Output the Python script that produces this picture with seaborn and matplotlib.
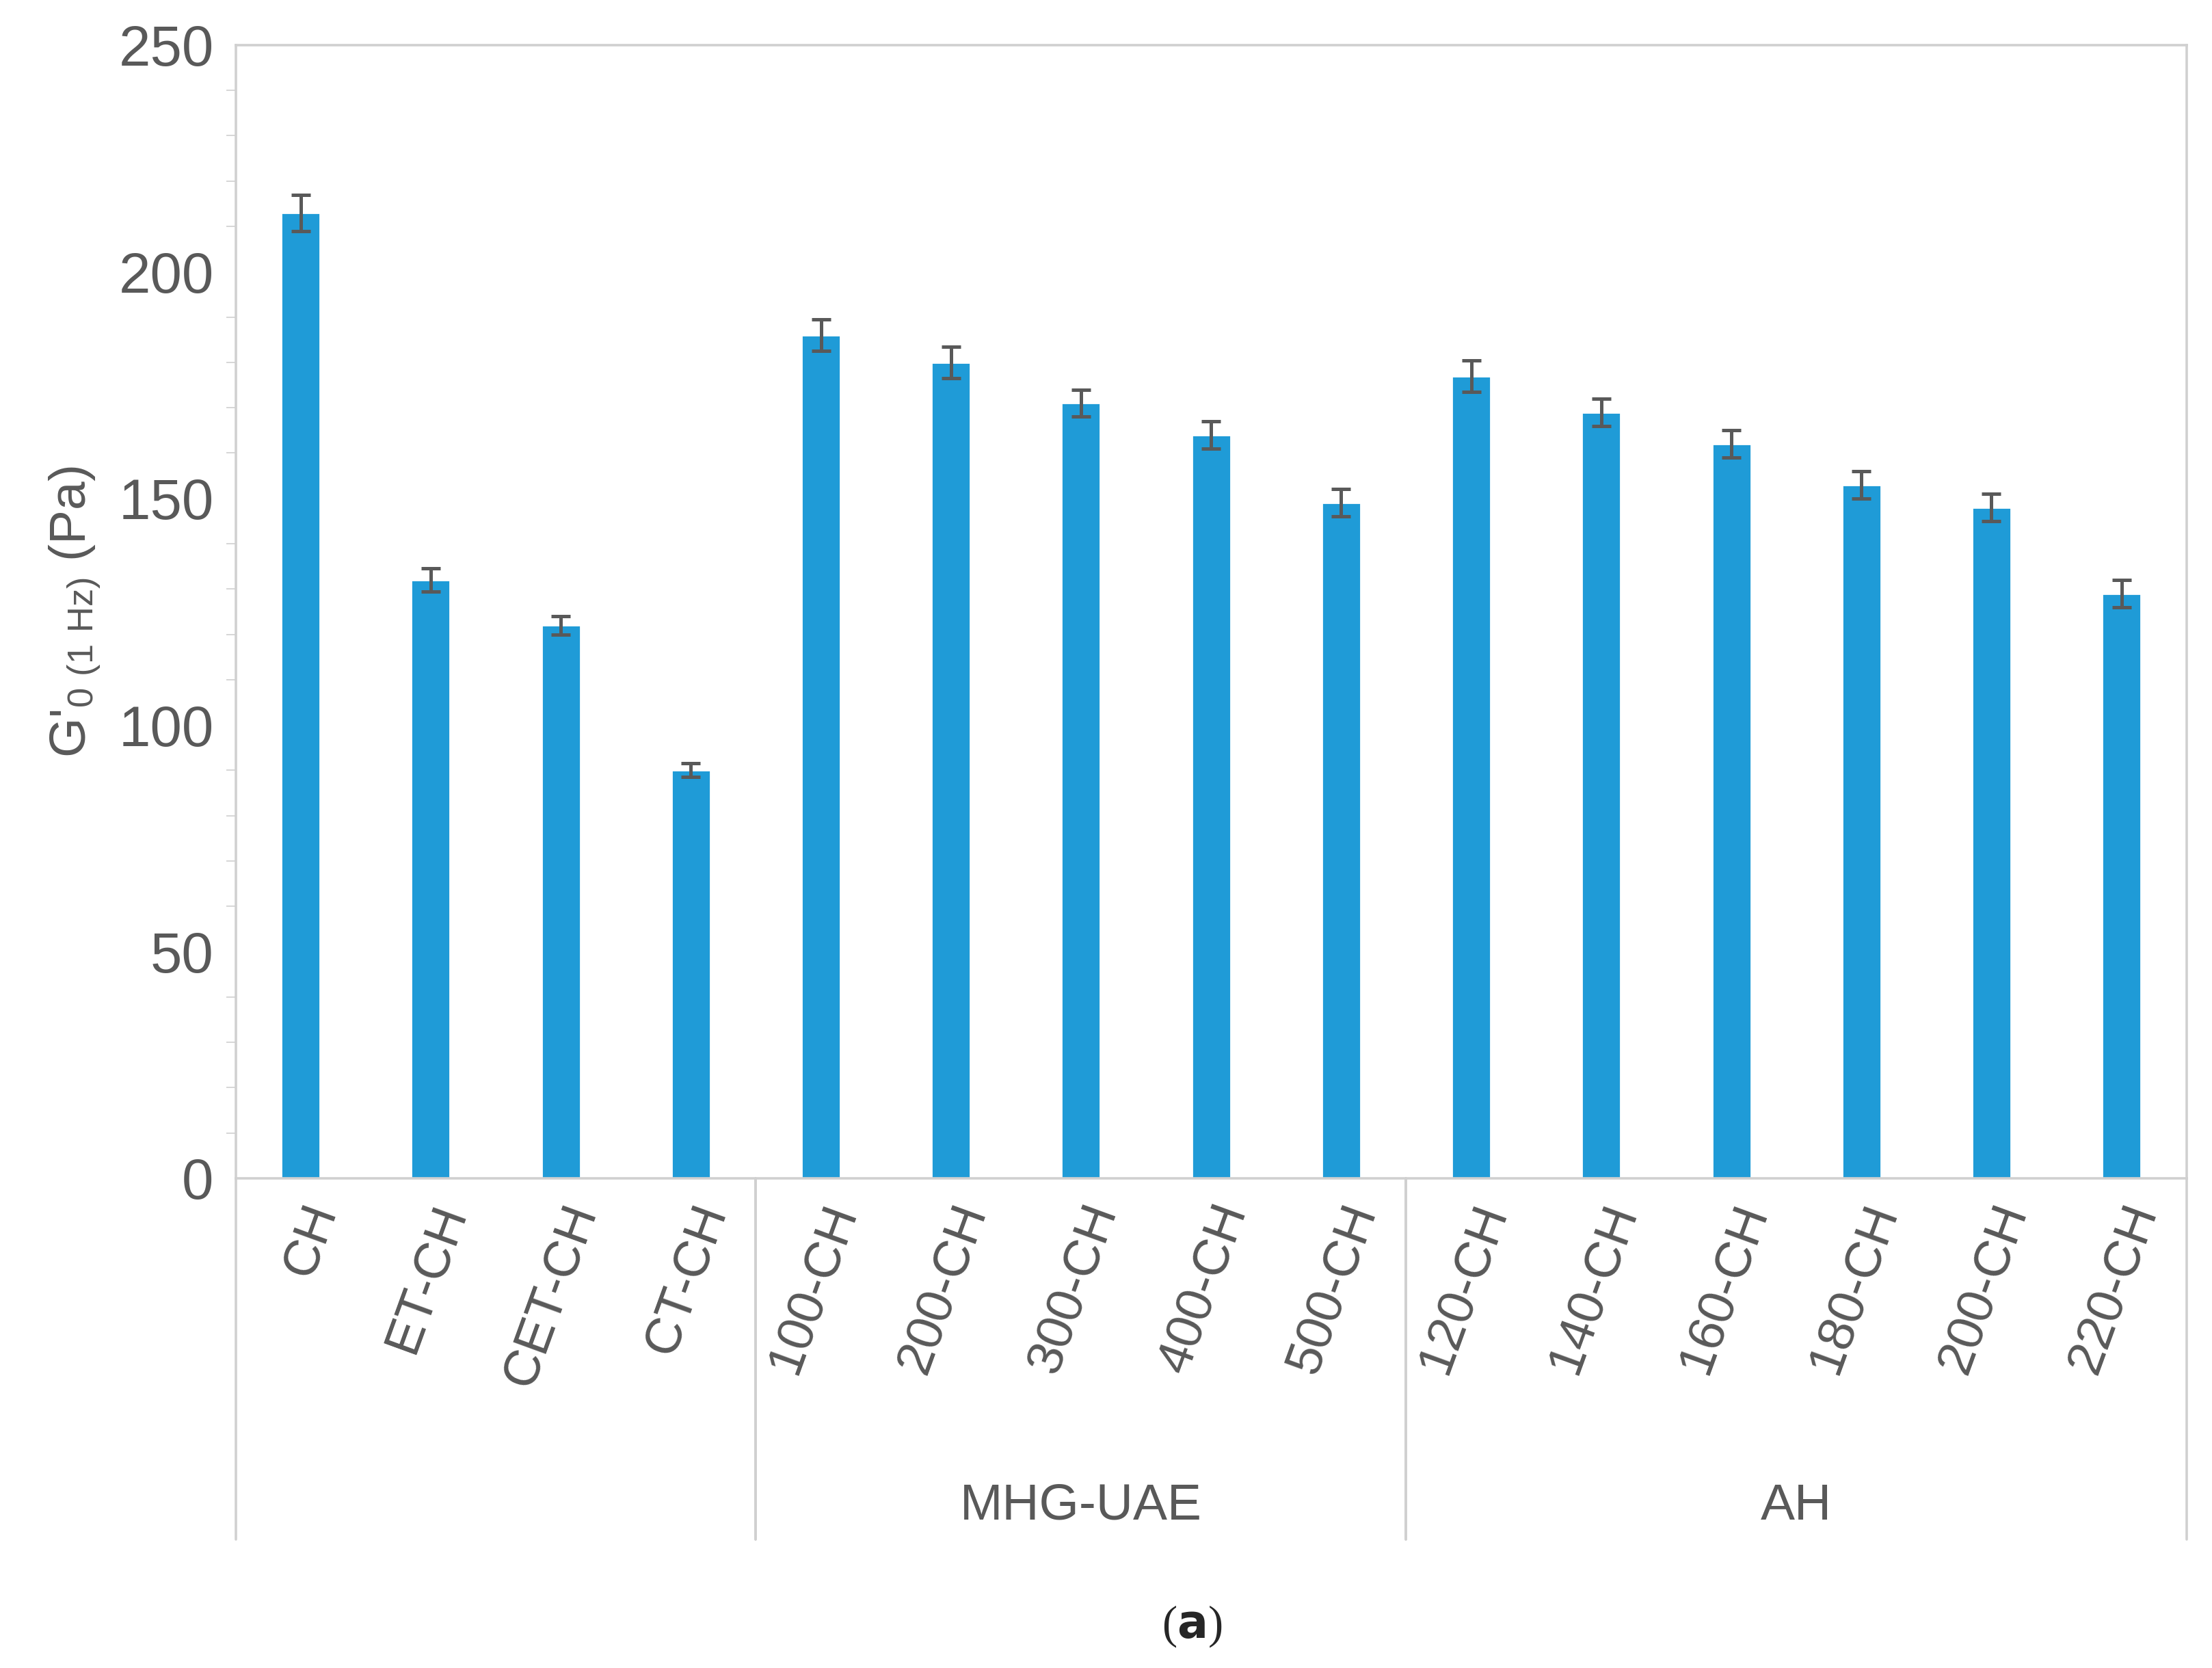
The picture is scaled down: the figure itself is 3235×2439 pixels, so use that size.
import matplotlib
matplotlib.use('Agg')
import matplotlib.pyplot as plt
import matplotlib.transforms as mtransforms
import numpy as np
import pandas as pd
import seaborn as sns

categories = ['CH', 'ET-CH', 'CET-CH', 'CT-CH',
              '100-CH', '200-CH', '300-CH', '400-CH', '500-CH',
              '120-CH', '140-CH', '160-CH', '180-CH', '200-CH', '220-CH']
values = [213, 132, 122, 90, 186, 180, 171, 164, 149, 177, 169, 162, 153, 148, 129]
errors = [4, 2.5, 2, 1.5, 3.5, 3.5, 3, 3, 3, 3.5, 3, 3, 3, 3, 3]
groups = [('', 0, 4), ('MHG-UAE', 4, 9), ('AH', 9, 15)]

BAR = '#1f9bd7'
GREY = '#595959'
LINE = '#d0d0d0'

sns.set_style('white')
plt.rcParams['font.family'] = ['Liberation Sans', 'DejaVu Sans']
plt.rcParams['mathtext.default'] = 'regular'

df = pd.DataFrame({'pos': [str(i) for i in range(len(values))], 'val': values})

fig = plt.figure(figsize=(16.175, 12.195), dpi=200)
ax = fig.add_axes([0.1065, 0.2936, 0.882, 0.6794])
sns.barplot(data=df, x='pos', y='val', color=BAR, width=0.3, saturation=1, ax=ax)
ax.errorbar(np.arange(len(values)), values, yerr=errors, fmt='none',
            ecolor=GREY, elinewidth=1.8, capsize=5, capthick=1.8)

ax.set_xlim(-0.5, len(values) - 0.5)
ax.set_ylim(0, 250)
ax.set_yticks(range(0, 251, 50))
ax.set_yticks(range(0, 251, 10), minor=True)
ax.tick_params(axis='y', which='major', labelsize=30, labelcolor=GREY, length=8, color=LINE)
ax.tick_params(axis='y', which='minor', length=5, color=LINE, left=True)
ax.tick_params(axis='x', length=0, pad=10)
ax.set_xticks(range(len(values)))
ax.set_xticklabels(categories, rotation=70, fontsize=27, color=GREY, ha='right',
                   rotation_mode='anchor')
for spine in ax.spines.values():
    spine.set_color(LINE)
    spine.set_linewidth(1.3)
ax.set_xlabel('')
ax.set_ylabel("G'$_{0\\ (1\\ Hz)}$ (Pa)", fontsize=27, color=GREY, labelpad=8)

# group separators and labels below the axis
trans = mtransforms.blended_transform_factory(ax.transData, fig.transFigure)
bottom_y = 0.2936
for name, start, stop in groups:
    for edge in (start - 0.5, stop - 0.5):
        ax.plot([edge, edge], [bottom_y, 0.077], transform=trans, color=LINE,
                lw=1.3, clip_on=False)
    if name:
        ax.text((start + stop - 1) / 2, 0.097, name, transform=trans, ha='center',
                va='center', fontsize=27, color=GREY)

fig.text(0.539, 0.025, '($\\mathbf{a}$)', ha='center', va='center', fontsize=24,
         family=['Liberation Serif', 'DejaVu Serif'])

fig.savefig('out.png', dpi=200, facecolor='white')
